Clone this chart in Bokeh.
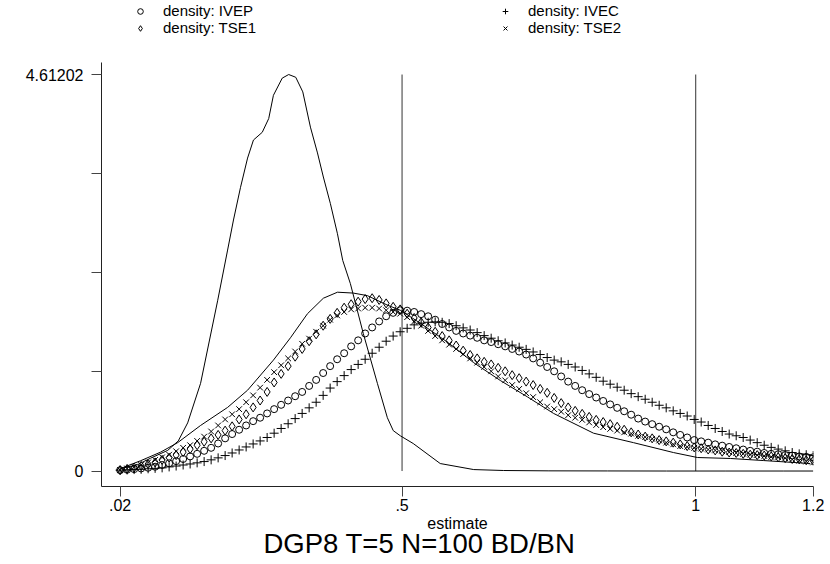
import numpy as np
from bokeh.plotting import figure
from bokeh.models import Range1d, FixedTicker, Legend, LegendItem, Title
from bokeh.embed import file_html
from bokeh.resources import INLINE

# evaluation grid of the kernel densities (100 points from .02 to 1.2)
grid = np.linspace(0.02, 1.2, 100)

ivep = [0.01, 0.015, 0.022, 0.03, 0.038, 0.05, 0.07, 0.09, 0.115, 0.14,
        0.17, 0.20, 0.235, 0.27, 0.32, 0.38, 0.43, 0.48, 0.53, 0.58,
        0.62, 0.67, 0.72, 0.77, 0.82, 0.87, 0.92, 0.99, 1.06, 1.14,
        1.22, 1.30, 1.37, 1.45, 1.52, 1.60, 1.67, 1.74, 1.80, 1.84,
        1.87, 1.865, 1.85, 1.825, 1.80, 1.76, 1.71, 1.67, 1.63, 1.60,
        1.575, 1.55, 1.52, 1.50, 1.475, 1.45, 1.42, 1.39, 1.355, 1.31,
        1.26, 1.21, 1.16, 1.10, 1.04, 0.99, 0.94, 0.895, 0.855, 0.815,
        0.775, 0.735, 0.695, 0.655, 0.61, 0.575, 0.545, 0.515, 0.485, 0.45,
        0.42, 0.39, 0.36, 0.345, 0.33, 0.31, 0.295, 0.28, 0.265, 0.25,
        0.235, 0.225, 0.21, 0.20, 0.195, 0.185, 0.18, 0.17, 0.165, 0.16]

ivec = [0.01, 0.013, 0.017, 0.02, 0.026, 0.031, 0.037, 0.048, 0.058, 0.07,
        0.082, 0.095, 0.11, 0.13, 0.153, 0.18, 0.21, 0.245, 0.28, 0.315,
        0.35, 0.39, 0.44, 0.495, 0.55, 0.61, 0.67, 0.735, 0.80, 0.88,
        0.965, 1.04, 1.11, 1.18, 1.24, 1.30, 1.37, 1.44, 1.51, 1.57,
        1.62, 1.66, 1.70, 1.72, 1.73, 1.735, 1.73, 1.715, 1.69, 1.665,
        1.64, 1.61, 1.575, 1.545, 1.515, 1.49, 1.465, 1.44, 1.415, 1.385,
        1.355, 1.32, 1.29, 1.27, 1.24, 1.21, 1.17, 1.13, 1.09, 1.045,
        1.01, 0.975, 0.94, 0.90, 0.865, 0.835, 0.80, 0.765, 0.735, 0.70,
        0.67, 0.64, 0.60, 0.57, 0.53, 0.495, 0.46, 0.43, 0.41, 0.39,
        0.36, 0.33, 0.30, 0.275, 0.255, 0.235, 0.215, 0.20, 0.19, 0.18]

tse1 = [0.01, 0.025, 0.04, 0.06, 0.08, 0.10, 0.13, 0.155, 0.185, 0.22,
        0.255, 0.30, 0.34, 0.38, 0.42, 0.47, 0.52, 0.60, 0.66, 0.74,
        0.82, 0.92, 1.03, 1.13, 1.22, 1.33, 1.42, 1.51, 1.59, 1.69,
        1.77, 1.84, 1.90, 1.94, 1.97, 2.00, 2.01, 1.99, 1.95, 1.91,
        1.88, 1.83, 1.78, 1.73, 1.67, 1.62, 1.57, 1.52, 1.46, 1.40,
        1.35, 1.31, 1.27, 1.24, 1.20, 1.16, 1.115, 1.08, 1.04, 1.00,
        0.955, 0.91, 0.85, 0.79, 0.74, 0.70, 0.665, 0.63, 0.595, 0.57,
        0.545, 0.515, 0.48, 0.45, 0.425, 0.40, 0.38, 0.36, 0.345, 0.33,
        0.31, 0.29, 0.275, 0.265, 0.25, 0.24, 0.225, 0.215, 0.21, 0.20,
        0.19, 0.185, 0.18, 0.17, 0.16, 0.15, 0.14, 0.135, 0.125, 0.12]

tse2 = [0.01, 0.03, 0.05, 0.07, 0.10, 0.13, 0.16, 0.19, 0.23, 0.27,
        0.30, 0.35, 0.40, 0.46, 0.53, 0.60, 0.66, 0.72, 0.80, 0.88,
        0.97, 1.06, 1.15, 1.23, 1.31, 1.39, 1.48, 1.54, 1.62, 1.69,
        1.76, 1.81, 1.85, 1.88, 1.89, 1.90, 1.90, 1.89, 1.87, 1.85,
        1.83, 1.79, 1.74, 1.69, 1.63, 1.57, 1.52, 1.47, 1.42, 1.36,
        1.31, 1.26, 1.21, 1.16, 1.10, 1.055, 1.00, 0.955, 0.905, 0.86,
        0.80, 0.75, 0.72, 0.69, 0.65, 0.62, 0.595, 0.565, 0.535, 0.51,
        0.49, 0.47, 0.45, 0.435, 0.41, 0.395, 0.375, 0.355, 0.33, 0.31,
        0.29, 0.28, 0.27, 0.26, 0.25, 0.24, 0.23, 0.22, 0.21, 0.20,
        0.19, 0.185, 0.175, 0.165, 0.16, 0.15, 0.135, 0.12, 0.11, 0.10]

# tall solid density curve
line1_x = [0.0207, 0.026, 0.050, 0.072, 0.101, 0.119, 0.135, 0.157, 0.186, 0.203,
           0.213, 0.225, 0.237, 0.247, 0.262, 0.273, 0.281, 0.296, 0.307, 0.319,
           0.331, 0.344, 0.356, 0.366, 0.378, 0.390, 0.399, 0.412, 0.434, 0.458,
           0.475, 0.485, 0.497, 0.519, 0.565, 0.622, 0.673, 0.75, 0.85, 0.95,
           1.05, 1.15, 1.2]
line1_y = [0.03, 0.035, 0.075, 0.15, 0.24, 0.35, 0.56, 1.02, 1.98, 2.57,
           2.92, 3.30, 3.64, 3.85, 3.94, 4.10, 4.37, 4.57, 4.61202, 4.58,
           4.41, 4.00, 3.70, 3.42, 3.11, 2.76, 2.45, 2.18, 1.60, 1.02,
           0.62, 0.47, 0.41, 0.32, 0.087, 0.017, 0.006, 0.002, 0.001, 0.0,
           0.0, 0.0, 0.0]

# broad solid density curve
line2_x = [0.021, 0.055, 0.089, 0.118, 0.157, 0.203, 0.237, 0.281, 0.310, 0.339,
           0.366, 0.390, 0.417, 0.441, 0.475, 0.497, 0.531, 0.577, 0.622, 0.668,
           0.714, 0.758, 0.826, 0.894, 0.962, 1.003, 1.059, 1.115, 1.195]
line2_y = [0.03, 0.12, 0.22, 0.33, 0.53, 0.74, 0.94, 1.29, 1.55, 1.83,
           2.01, 2.08, 2.07, 2.04, 1.93, 1.87, 1.72, 1.50, 1.26, 1.05,
           0.86, 0.67, 0.44, 0.33, 0.215, 0.157, 0.146, 0.122, 0.087]

ref_lines = [0.5, 1.0]
y_max = 4.61202
y_ticks = [0, y_max / 4, y_max / 2, 3 * y_max / 4, y_max]
y_tick_labels = {0: "0", y_max: "4.61202"}
x_ticks = [0.02, 0.5, 1.0, 1.2]
x_tick_labels = {0.02: ".02", 0.5: ".5", 1.0: "1", 1.2: "1.2"}

FONT = "Liberation Sans"

p = figure(frame_width=712, frame_height=486, output_backend="svg",
           toolbar_location=None,
           x_range=Range1d(-0.0117, 1.2005), y_range=Range1d(-0.180, 5.473),
           min_border_left=101, min_border_right=17, min_border_top=0,
           min_border_bottom=78)
p.outline_line_color = None
p.xgrid.visible = False
p.ygrid.visible = False
p.background_fill_color = "white"
p.border_fill_color = "white"

# axes
ya = p.yaxis[0]
ya.ticker = FixedTicker(ticks=y_ticks)
ya.major_label_overrides = {t: y_tick_labels.get(t, "") for t in y_ticks}
ya.bounds = (-0.180, 4.752)
ya.major_tick_out = 10
ya.major_tick_in = 0
ya.minor_tick_out = 0
ya.minor_tick_in = 0
ya.major_label_standoff = 8
ya.major_label_text_font = FONT
ya.major_label_text_font_size = "16px"
ya.major_label_text_color = "black"
ya.axis_line_color = "#222222"
ya.major_tick_line_color = "#444444"

xa = p.xaxis[0]
xa.ticker = FixedTicker(ticks=x_ticks)
xa.major_label_overrides = x_tick_labels
xa.major_tick_out = 10
xa.major_tick_in = 0
xa.minor_tick_out = 0
xa.minor_tick_in = 0
xa.major_label_standoff = 2
xa.major_label_text_font = FONT
xa.major_label_text_font_size = "16px"
xa.major_label_text_color = "black"
xa.axis_line_color = "#222222"
xa.major_tick_line_color = "#444444"
xa.axis_label = "estimate"
xa.axis_label_standoff = 1
xa.axis_label_text_font = FONT
xa.axis_label_text_font_size = "16px"
xa.axis_label_text_font_style = "normal"
xa.axis_label_text_color = "black"

title = Title(text="DGP8 T=5 N=100 BD/BN", align="left", text_font=FONT,
              text_font_size="27.5px", text_font_style="normal",
              text_color="black", standoff=-17, offset=162)
p.add_layout(title, "below")

# reference lines
p.segment(x0=ref_lines, y0=[0] * len(ref_lines), x1=ref_lines,
          y1=[y_max] * len(ref_lines), line_color="#333333", line_width=1)

# solid curves
p.line(line1_x, line1_y, line_color="black", line_width=1)
p.line(line2_x, line2_y, line_color="black", line_width=1)

r_ivep = p.scatter(grid, ivep, marker="circle", size=7, fill_color=None,
                   line_color="black", line_width=1)
r_ivec = p.scatter(grid, ivec, marker="cross", size=9, line_color="black",
                   line_width=1)
r_tse1 = p.scatter(grid, tse1, marker="diamond", size=9, fill_color=None,
                   line_color="black", line_width=1)
r_tse2 = p.scatter(grid, tse2, marker="x", size=8, line_color="black",
                   line_width=1)


def make_legend(items, vy):
    lg = Legend(items=items, location=(29, vy), orientation="horizontal")
    lg.border_line_color = None
    lg.background_fill_alpha = 0
    lg.padding = 0
    lg.margin = 0
    lg.spacing = 0
    lg.glyph_width = 20
    lg.glyph_height = 14
    lg.label_height = 14
    lg.label_standoff = 13
    lg.label_width = 332
    lg.label_text_font = FONT
    lg.label_text_font_size = "15px"
    lg.label_text_baseline = "middle"
    lg.label_text_color = "black"
    return lg


leg_top = make_legend([
    LegendItem(label="density: IVEP", renderers=[r_ivep]),
    LegendItem(label="density: IVEC", renderers=[r_ivec]),
], 467)
leg_bottom = make_legend([
    LegendItem(label="density: TSE1", renderers=[r_tse1]),
    LegendItem(label="density: TSE2", renderers=[r_tse2]),
], 450)
p.add_layout(leg_top)
p.add_layout(leg_bottom)

open("out.html", "w").write(file_html(p, INLINE))
